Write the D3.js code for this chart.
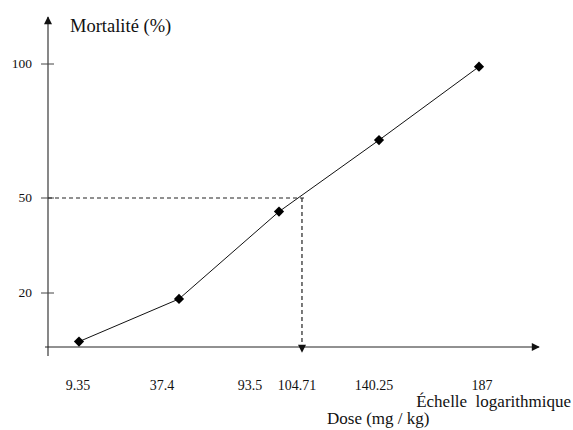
<!DOCTYPE html>
<html lang="fr">
  <head>
    <meta charset="UTF-8" />
    <title>Mortalité en fonction de la dose</title>
    <script src="https://d3js.org/d3.v7.min.js"></script>
    <style>
      body { margin: 0; background: #fff; }
    </style>
  </head>
  <body>
    <div class="chart"></div>
  </body>

  <script>
    // data
    var doses = [9.35, 37.4, 93.5, 140.25, 187];
    var mortality = [2, 17.8, 45.7, 71.6, 99];
    var yTicks = [20, 50, 100];
    var xTickLabels = [9.35, 37.4, 93.5, 104.71, 140.25, 187];
    var ld50 = 104.71;
    var ld50Level = 50;

    var width = 573, height = 430;

    var svg = d3.select(".chart").append("svg")
      .attr("width", width)
      .attr("height", height)
      .attr("font-family", "'Liberation Serif', 'Times New Roman', Times, serif")
      .attr("fill", "#111");

    // arrow heads
    var defs = svg.append("defs");
    defs.append("marker")
      .attr("id", "arrow")
      .attr("viewBox", "0 0 10 10")
      .attr("refX", 9).attr("refY", 5)
      .attr("markerWidth", 10).attr("markerHeight", 8)
      .attr("markerUnits", "userSpaceOnUse")
      .attr("orient", "auto")
      .append("path").attr("d", "M0,0L10,5L0,10Z").attr("fill", "#111");

    // hand placed axis in the original: doses evenly spaced, y piecewise
    var x = d3.scaleLinear()
      .domain(doses)
      .range(doses.map(function (d, i) { return 79 + i * 100; }));

    var y = d3.scaleLinear()
      .domain([0].concat(yTicks))
      .range([347, 293, 198, 64]);

    var x0 = 48;

    // y axis
    svg.append("line")
      .attr("x1", x0).attr("x2", x0)
      .attr("y1", 356).attr("y2", 17)
      .attr("stroke", "#555").attr("stroke-width", 1.4)
      .attr("marker-end", "url(#arrow)");

    // x axis
    svg.append("line")
      .attr("x1", 45).attr("x2", 539)
      .attr("y1", y(0)).attr("y2", y(0))
      .attr("stroke", "#222").attr("stroke-width", 1)
      .attr("marker-end", "url(#arrow)");

    // y ticks
    svg.selectAll(".ytick").data(yTicks).enter().append("line")
      .attr("x1", x0 - 7).attr("x2", x0 + 6)
      .attr("y1", function (d) { return y(d); })
      .attr("y2", function (d) { return y(d); })
      .attr("stroke", "#444").attr("stroke-width", 1);

    svg.selectAll(".ylabel").data(yTicks).enter().append("text")
      .attr("x", 32)
      .attr("y", function (d) { return y(d) + 4; })
      .attr("text-anchor", "end")
      .attr("font-size", 13.5)
      .text(function (d) { return d; });

    // x tick labels (nudged as in the original layout)
    var labelShift = { "9.35": -1, "37.4": -17, "93.5": -29, "104.71": -6, "140.25": -5, "187": 3 };
    svg.selectAll(".xlabel").data(xTickLabels).enter().append("text")
      .attr("x", function (d) { return x(d) + labelShift[d]; })
      .attr("y", 390)
      .attr("text-anchor", "middle")
      .attr("font-size", 14)
      .text(function (d) { return d; });

    // LD50 guides
    svg.append("line")
      .attr("x1", x0).attr("x2", x(ld50) + 4)
      .attr("y1", y(ld50Level)).attr("y2", y(ld50Level))
      .attr("stroke", "#222").attr("stroke-width", 1.2)
      .attr("stroke-dasharray", "4,3");

    svg.append("line")
      .attr("x1", x(ld50) - 1).attr("x2", x(ld50) - 1)
      .attr("y1", y(ld50Level)).attr("y2", y(0) + 5)
      .attr("stroke", "#222").attr("stroke-width", 1.2)
      .attr("stroke-dasharray", "4,3")
      .attr("marker-end", "url(#arrow)");

    var data = doses.map(function (d, i) { return { dose: d, m: mortality[i] }; });

    svg.append("path")
      .datum(data)
      .attr("fill", "none")
      .attr("stroke", "#111")
      .attr("stroke-width", 1)
      .attr("d", d3.line()
        .x(function (d) { return x(d.dose); })
        .y(function (d) { return y(d.m); }));

    svg.selectAll(".pt").data(data).enter().append("path")
      .attr("d", d3.symbol().type(d3.symbolSquare).size(52))
      .attr("transform", function (d) {
        return "translate(" + x(d.dose) + "," + y(d.m) + ") rotate(45)";
      })
      .attr("fill", "#000");

    // titles
    svg.append("text")
      .attr("x", 70).attr("y", 32)
      .attr("font-size", 18.5)
      .text("Mortalité (%)");

    svg.append("text")
      .attr("x", 571).attr("y", 407)
      .attr("text-anchor", "end")
      .attr("font-size", 17)
      .style("white-space", "pre")
      .text("Échelle  logarithmique");

    svg.append("text")
      .attr("x", 327).attr("y", 424)
      .attr("font-size", 17)
      .text("Dose (mg / kg)");
  </script>
</html>
